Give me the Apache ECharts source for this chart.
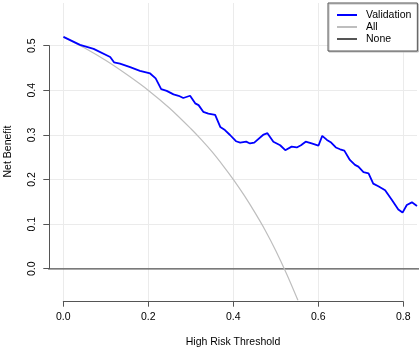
<!DOCTYPE html>
<html>
<head>
<meta charset="utf-8">
<script src="https://cdn.jsdelivr.net/npm/echarts@6/dist/echarts.min.js"></script>
<style>
  html, body { margin: 0; padding: 0; background: #fff; }
  #chart { width: 419px; height: 350px; }
</style>
</head>
<body>
<div id="chart"></div>
<script>
// thresholds and net benefit
const valThresholds = [0, 0.039, 0.071, 0.11, 0.119, 0.133, 0.157, 0.18, 0.204, 0.217,
    0.230, 0.243, 0.259, 0.271, 0.282, 0.298, 0.302, 0.31, 0.318, 0.329,
    0.341, 0.357, 0.369, 0.380, 0.392, 0.406, 0.416, 0.430, 0.439, 0.449,
    0.471, 0.480, 0.494, 0.510, 0.522, 0.537, 0.549, 0.559, 0.570, 0.584,
    0.600, 0.609, 0.620, 0.630, 0.641, 0.651, 0.661, 0.674, 0.686, 0.694,
    0.706, 0.718, 0.729, 0.741, 0.757, 0.773, 0.788, 0.798, 0.808, 0.820, 0.832];
const valBenefit = [0.520, 0.502, 0.493, 0.475, 0.463, 0.460, 0.452, 0.444, 0.438, 0.427,
    0.403, 0.399, 0.391, 0.388, 0.383, 0.388, 0.391, 0.371, 0.367, 0.352,
    0.348, 0.345, 0.318, 0.311, 0.300, 0.286, 0.283, 0.285, 0.281, 0.283,
    0.301, 0.304, 0.285, 0.277, 0.266, 0.274, 0.272, 0.277, 0.285, 0.281,
    0.276, 0.298, 0.289, 0.283, 0.272, 0.268, 0.265, 0.244, 0.233, 0.229,
    0.217, 0.214, 0.191, 0.185, 0.176, 0.154, 0.133, 0.126, 0.143, 0.149, 0.141];

const allThresholds = [0, 0.05, 0.10, 0.15, 0.20, 0.25, 0.30, 0.325, 0.35, 0.375,
    0.40, 0.425, 0.45, 0.475, 0.50, 0.525, 0.552];
const allBenefit = [0.52, 0.495, 0.467, 0.435, 0.40, 0.36, 0.314, 0.289, 0.262, 0.232,
    0.20, 0.165, 0.127, 0.086, 0.04, -0.011, -0.071];

const noneThresholds = [-0.05, 0.9];
const noneBenefit = [0, 0];

const xTicks = [0, 0.2, 0.4, 0.6, 0.8];
const yTicks = [0, 0.1, 0.2, 0.3, 0.4, 0.5];

const pairs = (xs, ys) => xs.map((x, i) => [x, ys[i]]);

const font = "Liberation Sans";
const axisGray = "#555";

const chart = echarts.init(document.getElementById("chart"), null, { renderer: "canvas" });

chart.setOption({
    animation: false,
    backgroundColor: "#fff",
    textStyle: { fontFamily: font },
    legend: {
        orient: "vertical",
        left: 328,
        top: 3,
        padding: [6, 6, 6, 9],
        itemWidth: 20,
        itemHeight: 2,
        itemGap: 0,
        backgroundColor: "#fff",
        borderColor: "#555",
        borderWidth: 1,
        shadowColor: "#bbb",
        shadowBlur: 0,
        shadowOffsetX: 1,
        shadowOffsetY: 1,
        textStyle: { fontSize: 10.5, color: "#000", fontFamily: font, padding: [0, 0, 0, 4], lineHeight: 12 },
        data: [
            { name: "Validation", icon: "rect" },
            { name: "All", icon: "rect" },
            { name: "None", icon: "rect" }
        ]
    },
    grid: [
        // data area
        { left: 49, right: 2, top: 3, bottom: 50, outerBoundsMode: "none", containLabel: false },
        // x tick axis
        { left: 63.3, right: 15.7, top: 3, bottom: 48.3, outerBoundsMode: "none", containLabel: false },
        // y tick axis
        { left: 49.3, right: 2, top: 45.7, bottom: 81.3, outerBoundsMode: "none", containLabel: false }
    ],
    xAxis: [
        {
            gridIndex: 0, type: "value", min: -0.034, max: 0.832,
            axisLine: { show: false }, axisTick: { show: false },
            axisLabel: { show: false }, splitLine: { show: false },
            name: "High Risk Threshold", nameLocation: "middle", nameGap: 37,
            nameTextStyle: { fontSize: 10.5, color: "#000", fontFamily: font }
        },
        {
            gridIndex: 1, type: "value", min: xTicks[0], max: xTicks[xTicks.length - 1], interval: 0.2,
            axisLine: { show: true, lineStyle: { color: axisGray, width: 1 } },
            axisTick: { show: true, length: 5, lineStyle: { color: axisGray } },
            axisLabel: { fontSize: 10.5, color: "#000", margin: 10, fontFamily: font,
                formatter: v => v.toFixed(1) },
            splitLine: { show: true, lineStyle: { color: "#ebebeb", width: 1 } }
        },
        {
            gridIndex: 2, type: "value", min: 0, max: 1, show: false
        }
    ],
    yAxis: [
        {
            gridIndex: 0, type: "value", min: -0.07, max: 0.596,
            axisLine: { show: false }, axisTick: { show: false },
            axisLabel: { show: false }, splitLine: { show: false },
            name: "Net Benefit", nameLocation: "middle", nameGap: 35,
            nameTextStyle: { fontSize: 10.5, color: "#000", fontFamily: font }
        },
        {
            gridIndex: 1, type: "value", min: 0, max: 1, show: false
        },
        {
            gridIndex: 2, type: "value", min: yTicks[0], max: yTicks[yTicks.length - 1], interval: 0.1,
            axisLine: { show: true, lineStyle: { color: axisGray, width: 1 } },
            axisTick: { show: true, length: 6, lineStyle: { color: axisGray } },
            axisLabel: { fontSize: 10.5, color: "#000", margin: 12, rotate: 90, fontFamily: font,
                formatter: v => v.toFixed(1) },
            splitLine: { show: true, lineStyle: { color: "#ebebeb", width: 1 } }
        }
    ],
    series: [
        {
            name: "None", type: "line", xAxisIndex: 0, yAxisIndex: 0,
            data: pairs(noneThresholds, noneBenefit),
            symbol: "none", itemStyle: { color: "#555" },
            lineStyle: { color: "#555", width: 1.2 }, z: 3
        },
        {
            name: "All", type: "line", xAxisIndex: 0, yAxisIndex: 0,
            data: pairs(allThresholds, allBenefit), smooth: 0.3,
            symbol: "none", itemStyle: { color: "#bebebe" },
            lineStyle: { color: "#bebebe", width: 1.2 }, z: 4
        },
        {
            name: "Validation", type: "line", xAxisIndex: 0, yAxisIndex: 0,
            data: pairs(valThresholds, valBenefit),
            symbol: "none", itemStyle: { color: "#0000ff" },
            lineStyle: { color: "#0000ff", width: 1.8 }, z: 5
        }
    ]
});
</script>
</body>
</html>
